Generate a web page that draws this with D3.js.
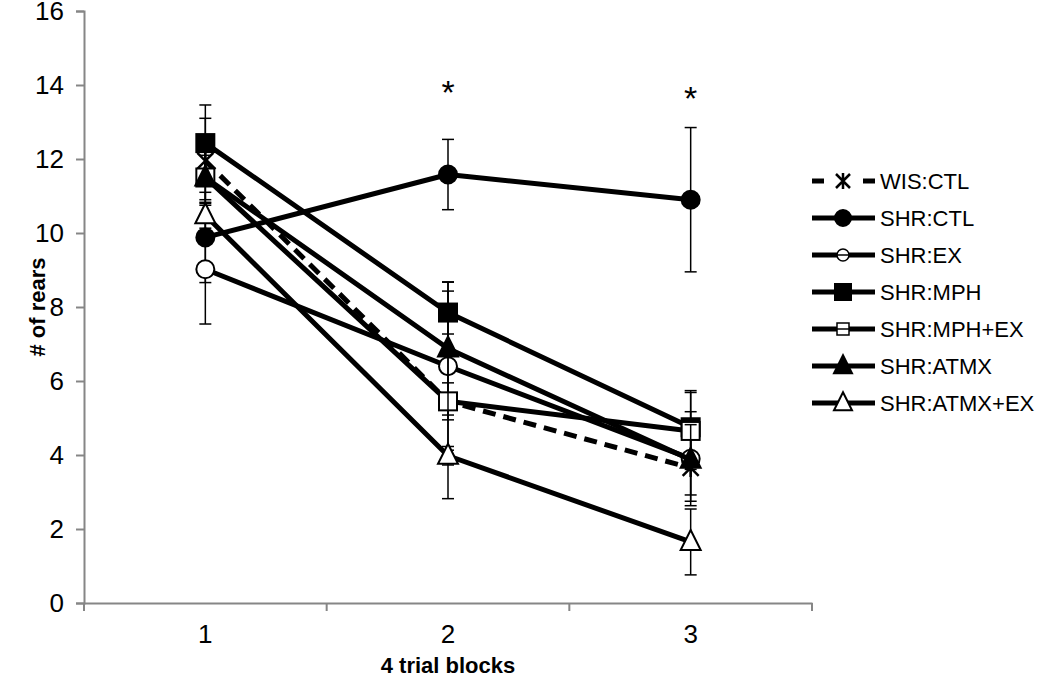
<!DOCTYPE html>
<html>
<head>
<meta charset="utf-8">
<script src="https://cdn.jsdelivr.net/npm/d3@7"></script>
<style>
  body { margin: 0; background: #fff; }
  text { font-family: "Liberation Sans", Arial, sans-serif; }
</style>
</head>
<body>
<svg width="1050" height="681"></svg>
<script>
// Data
const blocks = ["1", "2", "3"];
const series = ["WIS:CTL", "SHR:CTL", "SHR:EX", "SHR:MPH", "SHR:MPH+EX", "SHR:ATMX", "SHR:ATMX+EX"];
const markers = ["asterisk", "circle", "circle-open", "square", "square-open", "triangle", "triangle-open"];
const means = [
  [11.95, 5.45, 3.65],
  [9.88, 11.58, 10.9],
  [9.02, 6.4, 3.9],
  [12.43, 7.85, 4.75],
  [11.5, 5.45, 4.65],
  [11.5, 6.88, 3.87],
  [10.48, 3.98, 1.65]
];
const errs = [
  [1.15, 0.5, 0.9],
  [1.22, 0.95, 1.95],
  [1.48, 2.27, 1.27],
  [1.03, 0.58, 0.99],
  [0.75, 2.63, 1.04],
  [0.6, 1.8, 0.95],
  [0.35, 0.25, 0.89]
];
const yTicks = [0, 2, 4, 6, 8, 10, 12, 14, 16];
const sigBlocks = ["2", "3"];

// Layout
const m = { top: 11, left: 84, right: 812, bottom: 603 };
const AXIS = "#868686";

const svg = d3.select("svg");

const x = d3.scaleBand().domain(blocks).range([m.left, m.right]);
const y = d3.scaleLinear().domain([0, 16]).range([m.bottom, m.top]);
const cx = b => x(b) + x.bandwidth() / 2;

// Axes
const yAxis = svg.append("g")
  .attr("transform", `translate(${m.left},0)`)
  .call(d3.axisLeft(y).tickValues(yTicks).tickSize(8).tickPadding(12));
yAxis.selectAll("text").attr("font-size", 26).attr("fill", "#000")
  .style("font-family", "Liberation Sans, Arial, sans-serif");

const xAxis = svg.append("g")
  .attr("transform", `translate(0,${m.bottom})`)
  .call(d3.axisBottom(x).tickSize(0).tickPadding(22));
xAxis.selectAll("text").attr("font-size", 26).attr("fill", "#000")
  .style("font-family", "Liberation Sans, Arial, sans-serif");
// category boundary ticks
xAxis.selectAll(".bound")
  .data(blocks.concat(["end"]))
  .enter().append("line")
  .attr("x1", (d, i) => i < blocks.length ? x(d) : m.right)
  .attr("x2", (d, i) => i < blocks.length ? x(d) : m.right)
  .attr("y1", 0).attr("y2", 8);

[yAxis, xAxis].forEach(g => {
  g.select(".domain").attr("stroke", AXIS).attr("stroke-width", 2);
  g.selectAll("line").attr("stroke", AXIS).attr("stroke-width", 2);
});

// Axis titles
svg.append("text")
  .attr("x", cx("2")).attr("y", 673)
  .attr("text-anchor", "middle")
  .attr("font-size", 22).attr("font-weight", "bold")
  .text("4 trial blocks");

svg.append("text")
  .attr("transform", `translate(45,${(m.top + m.bottom) / 2}) rotate(-90)`)
  .attr("text-anchor", "middle")
  .attr("font-size", 22).attr("font-weight", "bold")
  .text("# of rears");

// Marker drawing
function drawMarker(g, type, px, py, s) {
  s = s || 9;
  if (type === "circle" || type === "circle-open") {
    g.append("circle").attr("cx", px).attr("cy", py).attr("r", s)
      .attr("fill", type === "circle" ? "#000" : "#fff")
      .attr("stroke", "#000").attr("stroke-width", 2);
  } else if (type === "square" || type === "square-open") {
    g.append("rect").attr("x", px - s).attr("y", py - s).attr("width", 2 * s).attr("height", 2 * s)
      .attr("fill", type === "square" ? "#000" : "#fff")
      .attr("stroke", "#000").attr("stroke-width", 2);
  } else if (type === "triangle" || type === "triangle-open") {
    const h = 2 * s + 2;
    g.append("path")
      .attr("d", `M${px},${py - h * 0.6} L${px + s + 1},${py + h * 0.4} L${px - s - 1},${py + h * 0.4} Z`)
      .attr("fill", type === "triangle" ? "#000" : "#fff")
      .attr("stroke", "#000").attr("stroke-width", 2);
  } else if (type === "asterisk") {
    const a = s - 1;
    g.append("path")
      .attr("d", `M${px - a},${py - a} L${px + a},${py + a} M${px - a},${py + a} L${px + a},${py - a} M${px},${py - a - 1} L${px},${py + a + 1}`)
      .attr("stroke", "#000").attr("stroke-width", 2.5).attr("fill", "none");
  }
}

const line = d3.line().x(d => cx(d.b)).y(d => y(d.v));

const plot = svg.append("g").attr("id", "plot");

series.forEach((name, i) => {
  const g = plot.append("g").attr("class", "series");
  const pts = blocks.map((b, j) => ({ b: b, v: means[i][j], e: errs[i][j] }));

  // error bars
  pts.forEach(p => {
    const top = y(p.v + p.e), bot = y(p.v - p.e), px = cx(p.b);
    g.append("line").attr("x1", px).attr("x2", px).attr("y1", top).attr("y2", bot)
      .attr("stroke", "#000").attr("stroke-width", 1.5);
    [top, bot].forEach(yy => g.append("line")
      .attr("x1", px - 6).attr("x2", px + 6).attr("y1", yy).attr("y2", yy)
      .attr("stroke", "#000").attr("stroke-width", 1.5));
  });

  g.append("path")
    .datum(pts)
    .attr("d", line)
    .attr("fill", "none")
    .attr("stroke", "#000")
    .attr("stroke-width", 5)
    .attr("stroke-linejoin", "round")
    .attr("stroke-dasharray", markers[i] === "asterisk" ? "13,8" : null);

  pts.forEach(p => drawMarker(g, markers[i], cx(p.b), y(p.v)));
});

// significance stars
svg.selectAll(".star")
  .data(sigBlocks)
  .enter().append("text")
  .attr("class", "star")
  .attr("x", d => cx(d))
  .attr("y", (d, i) => i === 0 ? 104 : 110)
  .attr("text-anchor", "middle")
  .attr("font-size", 34)
  .text("*");

// Legend
const legend = svg.append("g").attr("transform", "translate(812,181)");
series.forEach((name, i) => {
  const row = legend.append("g").attr("transform", `translate(0,${i * 37})`);
  if (markers[i] === "asterisk") {
    row.append("line").attr("x1", 0).attr("x2", 12).attr("stroke", "#000").attr("stroke-width", 5);
    row.append("line").attr("x1", 51).attr("x2", 63).attr("stroke", "#000").attr("stroke-width", 5);
  } else {
    row.append("line").attr("x1", 0).attr("x2", 63).attr("stroke", "#000").attr("stroke-width", 5);
  }
  const mg = row.append("g");
  if (markers[i] === "circle-open" || markers[i] === "square-open") {
    if (markers[i] === "circle-open") {
      mg.append("circle").attr("cx", 31).attr("cy", 0).attr("r", 6)
        .attr("fill", "#fff").attr("stroke", "#000").attr("stroke-width", 1.5);
    } else {
      mg.append("rect").attr("x", 25).attr("y", -6).attr("width", 12).attr("height", 12)
        .attr("fill", "#fff").attr("stroke", "#000").attr("stroke-width", 1.5);
    }
    mg.append("line").attr("x1", 25).attr("x2", 37).attr("stroke", "#000").attr("stroke-width", 1.5);
  } else {
    drawMarker(mg, markers[i], 31, 0, 8);
  }
  row.append("text")
    .attr("x", 68).attr("y", 0).attr("dy", "0.36em")
    .attr("font-size", 22)
    .text(name);
});
</script>
</body>
</html>
